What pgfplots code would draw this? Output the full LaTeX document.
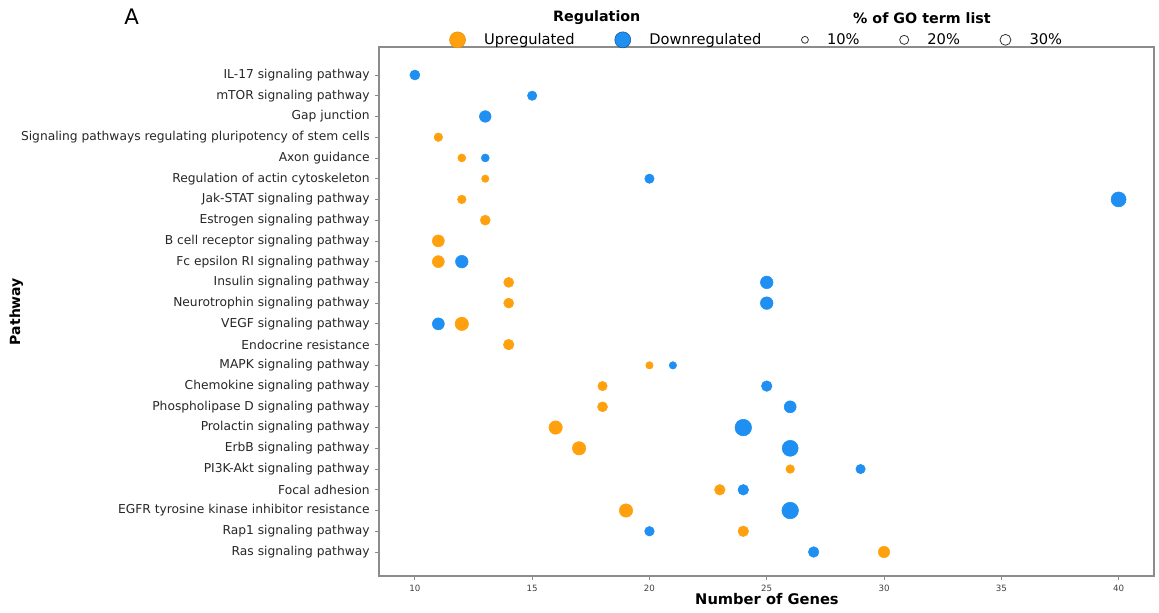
\documentclass[border=0pt]{standalone}
\usepackage{pgfplots}
\pgfplotsset{compat=1.18}
\usepackage{pgfplotstable}
\usepackage{fontspec}
\setmainfont{DejaVu Sans}
\definecolor{upC}{HTML}{FFA10F}
\definecolor{downC}{HTML}{1F8FF2}
\definecolor{axC}{HTML}{8C8C8C}

% y index: 0 = Ras (bottom) ... 23 = IL-17 (top); r = marker radius in px
\pgfplotstableread{
x y r
11 20 4.3
12 19 4.0
13 18 3.7
12 17 4.3
13 16 5.0
11 15 6.0
11 14 6.0
14 13 5.0
14 12 5.0
12 11 6.7
14 10 5.3
20 9 3.7
18 8 4.7
18 7 5.0
16 6 6.7
17 5 6.7
26 4 4.3
23 3 5.3
19 2 6.7
24 1 5.3
30 0 5.7
}\upTable
\pgfplotstableread{
x y r
10 23 5.0
15 22 4.7
13 21 5.8
13 19 4.0
20 18 4.7
40 17 7.5
12 14 6.3
25 13 6.3
25 12 6.3
11 11 6.0
21 9 3.7
25 8 5.3
26 7 6.0
24 6 8.3
26 5 8.0
29 4 4.7
24 3 5.3
26 2 8.3
20 1 4.8
27 0 5.3
}\downTable

\begin{document}
\begin{tikzpicture}
\useasboundingbox (0,0) rectangle (869.25pt,459.75pt);
\begin{axis}[
  at={(284.25pt,27.75pt)}, anchor=south west,
  scale only axis, width=581.25pt, height=396.75pt,
  xmin=8.47, xmax=41.51, ymin=-1.157, ymax=24.35,
  xtick={10,15,...,40},
  ytick={0,...,23},
  yticklabels={Ras signaling pathway, Rap1 signaling pathway, EGFR tyrosine kinase inhibitor resistance, Focal adhesion, PI3K-Akt signaling pathway, ErbB signaling pathway, Prolactin signaling pathway, Phospholipase D signaling pathway, Chemokine signaling pathway, MAPK signaling pathway, Endocrine resistance, VEGF signaling pathway, Neurotrophin signaling pathway, Insulin signaling pathway, Fc epsilon RI signaling pathway, B cell receptor signaling pathway, Estrogen signaling pathway, Jak-STAT signaling pathway, Regulation of actin cytoskeleton, Axon guidance, {Signaling pathways regulating pluripotency of stem cells}, Gap junction, mTOR signaling pathway, IL-17 signaling pathway},
  tick align=outside, tick pos=left,
  major tick length=3pt,
  tick style={axC, line width=0.6pt},
  axis line style={axC, line width=0.9pt},
  yticklabel style={font=\fontsize{9.2}{11}\selectfont, text=black!85, xshift=-0.5pt},
  xticklabel style={font=\fontsize{6.5}{8}\selectfont, text=black!75},
  /pgf/number format/assume math mode=true,
  xlabel={\bfseries Number of Genes},
  xlabel style={font=\fontsize{11}{13}\selectfont, at={(axis description cs:0.5006,-0.0435)}, anchor=center},
  ylabel={\bfseries Pathway},
  ylabel style={font=\fontsize{10.5}{12}\selectfont, at={(axis description cs:-0.468,0.5)}, anchor=center, rotate=0},
  legend columns=5,
  legend style={at={(axis description cs:0.488,1.0135)}, anchor=center, draw=none, fill=none,
    font=\fontsize{11}{13}\selectfont,
    /tikz/every even column/.append style={column sep=28pt},
    /tikz/every odd column/.append style={column sep=12pt}},
  legend cell align=left,
  clip=false,
]
\addplot[scatter, only marks, mark=*, forget plot,
  scatter/use mapped color={draw=upC, fill=upC},
  visualization depends on={\thisrow{r}\as\rad},
  scatter/@pre marker code/.append style={/tikz/mark size=0.75*\rad}]
  table[x=x, y=y] {\upTable};
\addplot[scatter, only marks, mark=*, forget plot,
  scatter/use mapped color={draw=downC, fill=downC},
  visualization depends on={\thisrow{r}\as\rad},
  scatter/@pre marker code/.append style={/tikz/mark size=0.75*\rad}]
  table[x=x, y=y] {\downTable};

\addlegendimage{only marks, mark=*, mark size=6pt, draw=upC!90!black, fill=upC}
\addlegendentry{Upregulated}
\addlegendimage{only marks, mark=*, mark size=6pt, draw=downC!60!black, fill=downC}
\addlegendentry{Downregulated}
\addlegendimage{only marks, mark=o, mark size=2.6pt, draw=black!80, line width=0.6pt}
\addlegendentry{10\%}
\addlegendimage{only marks, mark=o, mark size=3.4pt, draw=black!80, line width=0.6pt}
\addlegendentry{20\%}
\addlegendimage{only marks, mark=o, mark size=4.1pt, draw=black!80, line width=0.6pt}
\addlegendentry{30\%}

\node[font=\bfseries\fontsize{10.7}{12}\selectfont, anchor=center] at (axis description cs:0.281,1.055) {Regulation};
\node[font=\bfseries\fontsize{10.7}{12}\selectfont, anchor=center] at (axis description cs:0.7006,1.055) {\% of GO term list};
\node[font=\fontsize{16}{18}\selectfont, anchor=center] at (axis description cs:-0.319,1.057) {A};
\end{axis}
\end{tikzpicture}
\end{document}
